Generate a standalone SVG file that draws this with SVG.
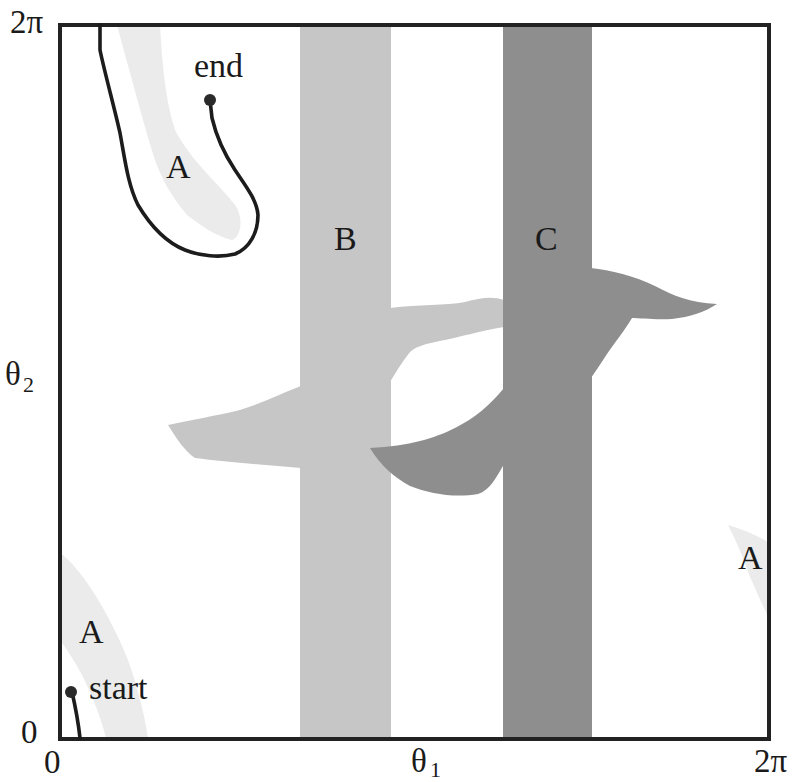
<svg xmlns="http://www.w3.org/2000/svg" width="794" height="782" viewBox="0 0 794 782">
<style>
.t{font-family:"Liberation Serif","Times New Roman",serif;font-size:34px;fill:#1a1a1a}
.ax{font-family:"Liberation Serif","Times New Roman",serif;font-size:33px;fill:#1a1a1a}
.sub{font-family:"Liberation Serif","Times New Roman",serif;font-size:22px;fill:#1a1a1a}
.a{fill:#ebebeb}
.b{fill:#c6c6c6}
.c{fill:#8e8e8e}
.path{fill:none;stroke:#1c1c1c;stroke-width:3.6;stroke-linecap:round;stroke-linejoin:round}
</style>
<rect width="794" height="782" fill="#ffffff"/>
<g id="regionA">
<path class="a" d="M117,25 L160,25 C162,60 165,100 175,130 C190,160 220,185 235,205 C245,220 240,238 232,240 C215,236 200,225 187,215 C170,195 160,175 155,160 C145,130 135,90 125,55 Z"/>
<path class="a" d="M60,553 C70,560 80,572 92,590 C105,610 118,635 128,660 C137,685 144,712 148,738 L106,738 C100,715 92,695 82,675 C74,660 66,648 60,640 Z"/>
<path class="a" d="M728,525 C745,530 758,536 768,542 L768,616 C762,605 756,590 750,577 C744,560 737,542 728,525 Z"/>
<text class="t" x="166" y="178">A</text>
<text class="t" x="79" y="643">A</text>
<text class="t" x="738" y="569">A</text>
</g>
<g id="regionB">
<rect class="b" x="300" y="25" width="91" height="715"/>
<path class="b" d="M301,386 C285,392 265,402 240,410 C215,416 190,420 168,425 C175,436 185,452 195,458 C225,462 265,465 301,468 Z"/>
<path class="b" d="M390,308 C420,304 445,306 465,302 C480,298 492,296 504,300 L504,327 C480,331 460,337 445,340 C430,343 418,345 410,352 C402,362 396,372 390,382 Z"/>
<text class="t" x="334" y="250">B</text>
</g>
<g id="regionC">
<rect class="c" x="503" y="25" width="89" height="715"/>
<path class="c" d="M504,388 C490,405 475,418 455,428 C435,438 410,446 370,448 C380,465 395,478 410,486 C430,494 455,498 478,494 C490,490 496,478 504,464 Z"/>
<path class="c" d="M591,268 C610,270 635,276 655,286 C672,295 690,303 717,304 C705,312 690,317 672,319 C655,320 640,318 632,318 C625,330 615,342 605,357 C600,365 595,372 591,378 Z"/>
<text class="t" x="535" y="250">C</text>
</g>
<g id="frame">
<rect x="60" y="25" width="709" height="714" fill="none" stroke="#222" stroke-width="4"/>
</g>
<g id="connectors">
<path class="path" d="M100,25 L100,50 C104,70 115,110 120,133 C125,160 128,185 138,205 C150,225 165,242 185,250 C200,256 220,258 235,254 C250,248 258,232 258,215 C257,200 245,185 235,170 C225,155 216,135 212,118 L210,100"/>
<path class="path" d="M72,692 C75,705 78,720 80,738"/>
</g>
<g id="end">
<circle cx="210" cy="100" r="6" fill="#2a2a2a"/>
<text class="t" x="194" y="77">end</text>
</g>
<g id="start">
<circle cx="71" cy="692" r="6" fill="#2a2a2a"/>
<text class="t" x="89" y="699">start</text>
</g>
<g id="axes">
<text class="ax" x="10" y="33">2π</text>
<text class="ax" x="5" y="385">θ</text>
<text class="sub" x="23" y="392">2</text>
<text class="ax" x="21" y="743">0</text>
<text class="ax" x="44" y="773">0</text>
<text class="ax" x="411" y="772">θ</text>
<text class="sub" x="430" y="777">1</text>
<text class="ax" x="754" y="772">2π</text>
</g>
</svg>
